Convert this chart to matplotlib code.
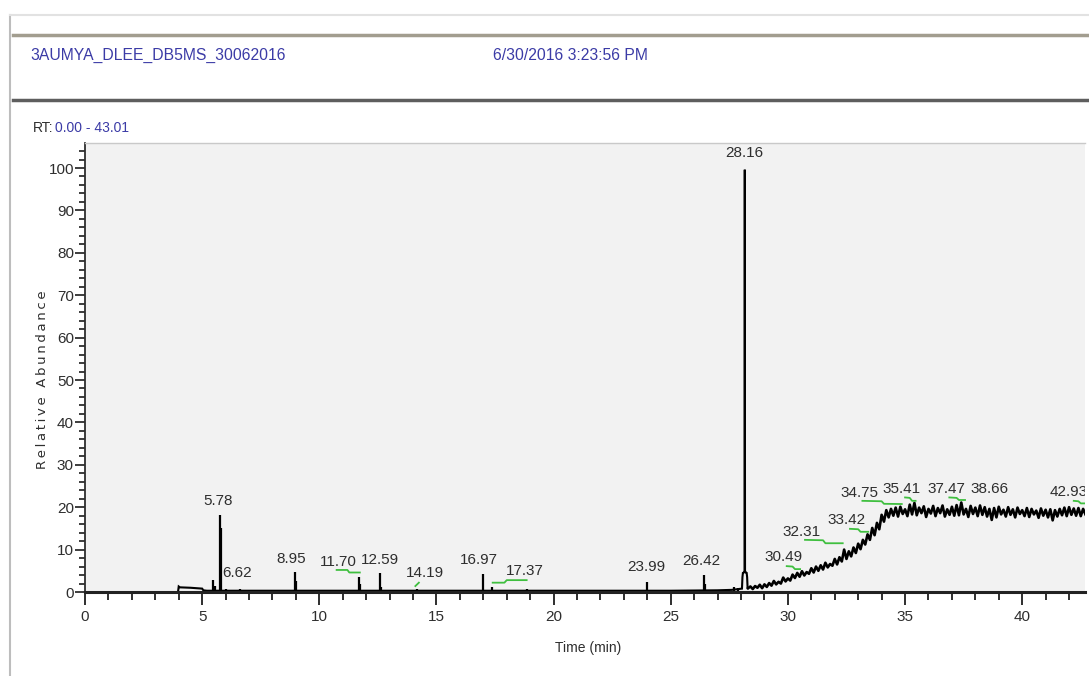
import numpy as np
import matplotlib
matplotlib.use("Agg")
import matplotlib.pyplot as plt
from matplotlib.lines import Line2D
from matplotlib.ticker import MultipleLocator

# chromatogram trace before the hump (time min, relative abundance)
base_rt = [3.97, 4.0, 4.05, 4.5, 5.0, 5.05, 5.2, 6.0, 10.0, 15.0, 20.0, 25.0,
           27.0, 27.6, 27.9, 28.04, 28.06, 28.08, 28.12, 28.15, 28.16, 28.17,
           28.20, 28.24, 28.26, 28.28, 28.3]
base_ab = [0.0, 1.3, 1.1, 1.0, 0.8, 0.4, 0.3, 0.3, 0.3, 0.3, 0.3, 0.3,
           0.4, 0.5, 0.7, 0.8, 3.5, 4.5, 4.6, 5.0, 99.6, 5.0,
           4.6, 4.5, 3.5, 0.9, 0.9]

# noisy hump, sampled every 0.1 min from 28.3 to 42.7
hump_start = 28.3
hump_step = 0.1
hump_ab = [0.9, 1.3, 0.7, 1.4, 1.0, 1.7, 0.9, 1.8, 1.2, 2.1,
           1.5, 2.6, 1.8, 2.4, 2.0, 3.4, 2.5, 3.2, 2.7, 4.1,
           3.3, 4.5, 3.6, 4.9, 3.9, 4.7, 4.3, 5.6, 4.6, 6.0,
           5.0, 6.3, 5.3, 6.9, 5.8, 6.6, 6.2, 7.8, 6.5, 8.2,
           7.2, 10.0, 7.8, 9.6, 8.4, 10.5, 9.2, 11.4, 10.1, 12.3,
           11.2, 13.6, 12.3, 15.1, 13.4, 16.3, 14.8, 18.2, 16.6, 19.3,
           17.6, 19.6, 18.0, 19.9, 17.8, 20.1, 18.4, 19.5, 17.9, 20.6,
           18.3, 21.0, 18.1, 19.9, 18.6, 20.2, 17.7, 19.6, 18.5, 20.3,
           17.9, 19.8, 18.6, 20.4, 17.8, 19.5, 18.2, 20.1, 18.0, 20.5,
           18.1, 21.1, 18.3, 19.6, 17.7, 20.3, 18.4, 19.9, 17.9, 20.4,
           18.2, 20.0, 17.8, 19.6, 17.0, 19.8, 17.6, 20.1, 18.3, 19.4,
           17.8, 20.0, 18.2, 19.5, 17.6, 19.9, 18.4, 19.3, 17.9, 19.8,
           17.7, 19.6, 18.3, 19.2, 17.5, 19.7, 18.0, 19.4, 17.6, 19.5,
           16.9, 19.3, 17.8, 19.6, 18.1, 19.9, 17.9, 20.0, 18.2, 19.7,
           18.0, 19.8, 17.9, 19.6, 18.3]

# narrow spikes on the flat baseline
spike_rt = [5.45, 5.55, 5.78, 5.82, 6.0, 6.62, 8.95, 9.0, 11.70, 11.75,
            12.59, 12.65, 14.19, 16.97, 17.37, 18.85, 23.99, 26.42, 26.47,
            27.4, 27.7, 27.85]
spike_top = [2.8, 1.5, 18.2, 15.0, 0.8, 0.6, 4.7, 2.5, 3.6, 2.0,
             4.4, 1.2, 0.8, 4.3, 1.2, 0.8, 2.4, 4.0, 1.8,
             0.8, 1.2, 1.0]
baseline_level = 0.3

# peak labels
label_text = ["5.78", "6.62", "8.95", "11.70", "12.59", "14.19", "16.97",
              "17.37", "23.99", "26.42", "28.16", "30.49", "32.31", "33.42",
              "34.75", "35.41", "37.47", "38.66", "42.93"]
label_rt = [5.68, 6.47, 8.82, 10.8, 12.59, 14.51, 16.79, 18.78, 23.94,
            26.32, 28.13, 29.8, 30.59, 32.51, 33.05, 34.86, 36.78, 38.62, 42.0]
label_ab = [21.5, 4.4, 7.9, 7.1, 7.5, 4.4, 7.5, 5.0, 5.8, 7.4, 103.5,
            8.2, 14.2, 17.0, 23.4, 24.3, 24.3, 24.3, 23.5]

# green integration marks
green_marks = [
    [(10.74, 5.2), (11.2, 5.2), (11.28, 4.6), (11.73, 4.6)],
    [(14.1, 1.4), (14.25, 2.2)],
    [(17.4, 2.2), (17.9, 2.2), (18.0, 2.8), (18.85, 2.8)],
    [(29.95, 6.1), (30.2, 6.0), (30.3, 5.4), (30.52, 5.4)],
    [(30.73, 12.3), (31.5, 12.2), (31.6, 11.5), (32.34, 11.5)],
    [(32.65, 14.9), (33.0, 14.8), (33.1, 14.2), (33.43, 14.2)],
    [(33.18, 21.5), (34.0, 21.4), (34.1, 20.8), (34.86, 20.75)],
    [(35.0, 22.3), (35.2, 22.2), (35.3, 21.5), (35.45, 21.5)],
    [(36.89, 22.3), (37.2, 22.2), (37.3, 21.7), (37.56, 21.7)],
    [(42.2, 21.5), (42.4, 21.4), (42.5, 20.9), (42.7, 20.9)],
]

sans = ["Liberation Sans", "DejaVu Sans"]
blue = "#3b3ba6"
dark = "#2e2e2e"

W, H = 1089, 676
fig = plt.figure(figsize=(W / 100, H / 100), dpi=100)

# window frame and header rules
fig.add_artist(Line2D([10 / W, 10 / W], [0, 1 - 15 / H], color="#bdbdbd", lw=1.5))
fig.add_artist(Line2D([10 / W, 1], [1 - 15 / H, 1 - 15 / H], color="#e2e2e2", lw=1.5))
fig.add_artist(Line2D([13 / W, 1], [1 - 35 / H, 1 - 35 / H], color="#a29d8f", lw=2.5))
fig.add_artist(Line2D([13 / W, 1], [1 - 100 / H, 1 - 100 / H], color="#5e5e5e", lw=2.5))

fig.text(30 / W, 1 - 55 / H, "3AUMYA_DLEE_DB5MS_30062016", color=blue,
         fontsize=11.3, family=sans, va="center", ha="left")
fig.text(493 / W, 1 - 55 / H, "6/30/2016 3:23:56 PM", color=blue,
         fontsize=11.3, family=sans, va="center", ha="left")
fig.text(33 / W, 1 - 128 / H, "RT:", color=dark, fontsize=10,
         family=sans, va="center", ha="left")
fig.text(55 / W, 1 - 128 / H, "0.00 - 43.01", color=blue, fontsize=10,
         family=sans, va="center", ha="left")

ax = fig.add_axes([85 / W, 84 / H, 1000 / W, 449 / H])
ax.set_facecolor("#f2f2f2")

hump_rt = np.round(hump_start + hump_step * np.arange(len(hump_ab)), 2)
ax.plot(base_rt, base_ab, color="black", lw=1.5, solid_joinstyle="miter")
ax.plot(hump_rt, hump_ab, color="black", lw=1.9)
ax.vlines(spike_rt, baseline_level, spike_top, color="black", lw=1.6)

for seg in green_marks:
    xs, ys = zip(*seg)
    ax.plot(xs, ys, color="#3fbf3f", lw=1.3)

for txt, x, y in zip(label_text, label_rt, label_ab):
    ax.text(x, y, txt, ha="center", va="center", fontsize=11,
            family=sans, color=dark, clip_on=True)

ax.set_xlim(0, 1000 / 23.43)
ax.set_ylim(0, 449 / 4.24)

ax.xaxis.set_major_locator(MultipleLocator(5))
ax.xaxis.set_minor_locator(MultipleLocator(1))
ax.yaxis.set_minor_locator(MultipleLocator(2))
ax.set_yticks(np.arange(0, 101, 10))

ax.tick_params(axis="x", which="major", length=9, width=1.4, pad=4,
               colors=dark, labelsize=11, direction="out")
ax.tick_params(axis="x", which="minor", length=6, width=1.4, direction="out",
               colors=dark)
ax.tick_params(axis="y", which="major", length=7, width=1.3, pad=1,
               colors=dark, labelsize=11, direction="out")
ax.tick_params(axis="y", which="minor", length=4.5, width=1.3,
               direction="out", colors=dark)
for lab in ax.get_xticklabels() + ax.get_yticklabels():
    lab.set_family(sans)

ax.spines["right"].set_visible(False)
ax.spines["top"].set_color("#c9c9c9")
ax.spines["top"].set_linewidth(1)
ax.spines["left"].set_color(dark)
ax.spines["left"].set_linewidth(1.3)
ax.spines["bottom"].set_color("#222222")
ax.spines["bottom"].set_linewidth(2.2)

fig.text(588 / W, 1 - 648 / H, "Time (min)", ha="center", va="center",
         fontsize=10, family=sans, color=dark)
ylab = "\u2009".join("Relative Abundance")
fig.text(43 / W, 1 - 380 / H, ylab, ha="center", va="center",
         rotation=90, fontsize=9.5, family="DejaVu Sans", color=dark)

fig.savefig("out.png", dpi=100, facecolor="white")
